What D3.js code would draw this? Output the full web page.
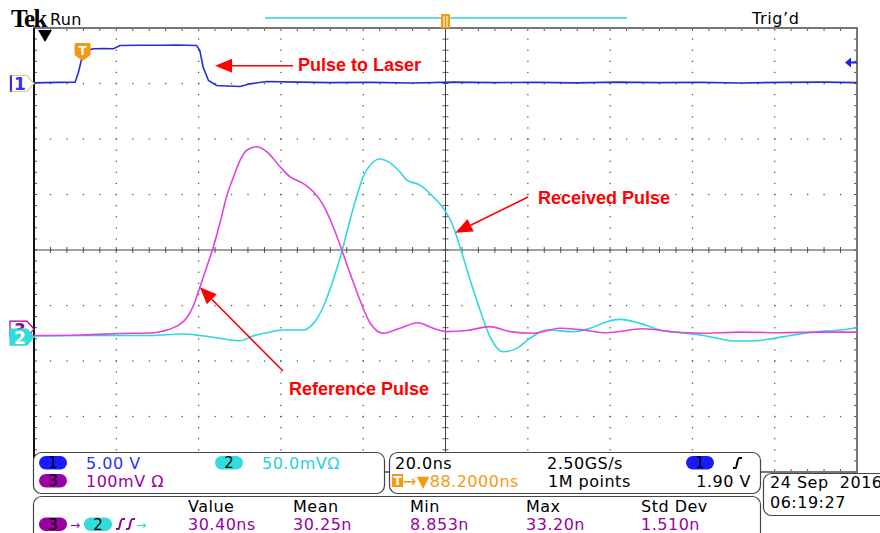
<!DOCTYPE html>
<html>
<head>
<meta charset="utf-8">
<script src="https://cdn.jsdelivr.net/npm/d3@7"></script>
<style>
body { margin: 0; background: #fff; }
svg { display: block; font-family: "DejaVu Sans", sans-serif; }
</style>
</head>
<body>
<script>
// waveforms: [time in ns after trigger, value]
// ch1 in volts
const ch1 = [[-11.8,0.06],[-6,0.1],[-1.8,0.12],[-1.0,1.02],[-0.2,2.25],[1.0,2.97],[2.6,3.13],[5,3.15],[7.5,3.13],
  [9.1,3.42],[14,3.45],[18.8,3.44],[23,3.47],[27.7,3.42],[28.5,2.97],[29.3,1.47],[30.6,0.27],[32.6,-0.18],[35,-0.22],
  [38.3,-0.27],[40.7,-0.03],[44.8,0.18],[52.8,0.12],[60,0.08],[70,0.1],[80,0.05],[90,0.12],[100,0.08],[110,0.1],
  [120,0.06],[130,0.12],[140,0.08],[150,0.1],[160,0.05],[170,0.1],[180,0.12],[188.2,0.08]];
// ch2 in mV (received pulse)
const ch2 = [[-11.8,0],[4.2,0.5],[16.4,0.5],[24.4,1.8],[28.5,0.5],[33.4,-2.1],[38.3,-4.2],[41.4,0],[44.8,3],[48.8,5.4],
  [53.6,5.4],[56.1,11.4],[58.5,26.4],[60.9,50.5],[63.0,76],[65.0,104.5],[66.6,125.5],[68.2,143.5],[70.3,155.6],
  [72.3,159.5],[74.7,156],[77.1,148],[78.8,140.5],[82.0,136],[85.2,125.5],[87.7,115],[90.1,98.5],[91.7,80.5],
  [94.2,50.5],[96.6,23.4],[99.0,-0.6],[102.2,-14.1],[105.5,-11.1],[108.7,-2.1],[112.8,5.4],[119.3,3.9],[123.3,6.9],
  [127.4,12.9],[130.6,15],[135.5,11.4],[140.3,5.4],[146.8,2.4],[152.5,-0.6],[158.1,-4.5],[163.0,-4.5],[167.9,-2.1],
  [172.7,0.9],[178.4,3.9],[184.1,5.4],[188.2,7.5]];
// ch3 in mV (reference pulse)
const ch3 = [[-11.8,0.9],[-0.6,1.8],[12.3,4.9],[16.4,5.4],[18.8,7.7],[20.5,10.8],[23.7,21.6],[25.1,30.6],[26.8,52.3],
  [28.5,88],[30.2,125],[31.8,161],[33.4,204],[35.0,251],[36.6,285],[38.3,317],[39.9,335],[42.3,341],[44.8,332],
  [48.0,305],[50.4,287],[53.6,275],[56.1,260],[58.5,236],[60.9,197],[63.0,155],[65.0,113],[67.4,65],[69.9,23],
  [73.1,5],[77.1,14],[81.5,24],[85.2,14],[88.5,8],[93.4,10],[99.0,17],[103.9,8],[109.5,5],[116.0,14],[121.6,11],
  [127.4,6],[136.2,13],[142.8,8],[150.0,5],[159.8,7],[169.5,6],[179.2,7],[188.2,7]];

const perDiv = {1: 5, 2: 50, 3: 100};      // V/div, mV/div, mV/div
const position = {1: 3.0, 2: -1.55, 3: -1.55}; // divisions
const timePerDiv = 20, delay = 88.2, trigLevel = 1.90;

const chanText = ["5.00 V", "50.0mVΩ", "100mV Ω"];
const timeText = ["20.0ns", "2.50GS/s", "1.90 V", "→▼88.2000ns", "1M points"];
const measHeaders = ["Value", "Mean", "Min", "Max", "Std Dev"];
const measValues = ["30.40ns", "30.25n", "8.853n", "33.20n", "1.510n"];
const dateText = ["24 Sep  2016", "06:19:27"];

const col = {c1: "#2a2ad8", c1txt: "#2f2fff", pill1: "#1a1aff", c2: "#2fd8dc", c2txt: "#28d2d8",
  c3: "#dd44dd", c3txt: "#99009f", orange: "#f59a10", red: "#ff0000"};

const W = 880, H = 533;
const X0 = 34, X1 = 857, Y0 = 28, Y1 = 472;

const xDiv = d3.scaleLinear().domain([0, 10]).range([X0, X1]);
const yDiv = d3.scaleLinear().domain([-4, 4]).range([Y1, Y0]);
const x = d3.scaleLinear().domain([delay - 5 * timePerDiv, delay + 5 * timePerDiv]).range([X0, X1]);
const yCh = (c, v) => yDiv(position[c] + v / perDiv[c]);

const svg = d3.select("body").append("svg").attr("width", W).attr("height", H);

// graticule
const g = svg.append("g");
const dots = [];
for (let i = 1; i < 10; i++) if (i !== 5) for (let j = 0; j <= 40; j++) dots.push([xDiv(i), yDiv(-4 + j * 0.2)]);
for (let k = -3; k <= 3; k++) if (k !== 0) for (let j = 0; j <= 50; j++) dots.push([xDiv(j * 0.2), yDiv(k)]);
g.selectAll(".dot").data(dots).join("rect").attr("class", "dot")
  .attr("x", d => d[0] - 0.6).attr("y", d => d[1] - 0.6)
  .attr("width", 1.3).attr("height", 1.3).attr("fill", "#555");

const hTicks = d3.range(0, 50.5).map(j => xDiv(j * 0.2));
const vTicks = d3.range(0, 40.5).map(j => yDiv(-4 + j * 0.2));
const tickLines = [];
hTicks.forEach(px => {
  tickLines.push([px, yDiv(0) - 3, px, yDiv(0) + 3]);
  tickLines.push([px, Y0, px, Y0 + 3]);
  tickLines.push([px, Y1 - 3, px, Y1]);
});
vTicks.forEach(py => {
  tickLines.push([xDiv(5) - 3, py, xDiv(5) + 3, py]);
  tickLines.push([X0, py, X0 + 3, py]);
  tickLines.push([X1 - 3, py, X1, py]);
});
g.selectAll(".tk").data(tickLines).join("line").attr("class", "tk")
  .attr("x1", d => d[0]).attr("y1", d => d[1]).attr("x2", d => d[2]).attr("y2", d => d[3])
  .attr("stroke", "#555").attr("stroke-width", 1);
g.append("line").attr("x1", X0).attr("x2", X1).attr("y1", yDiv(0)).attr("y2", yDiv(0)).attr("stroke", "#444");
g.append("line").attr("x1", xDiv(5)).attr("x2", xDiv(5)).attr("y1", Y0).attr("y2", Y1).attr("stroke", "#444");
g.append("rect").attr("x", X0).attr("y", Y0).attr("width", X1 - X0).attr("height", Y1 - Y0)
  .attr("fill", "none").attr("stroke", "#777").attr("stroke-width", 2);
g.append("line").attr("x1", X0).attr("x2", X0).attr("y1", Y0).attr("y2", Y1).attr("stroke", "#111").attr("stroke-width", 2);

// traces
svg.append("clipPath").attr("id", "clip").append("rect")
  .attr("x", X0).attr("y", Y0).attr("width", X1 - X0).attr("height", Y1 - Y0);
const tr = svg.append("g").attr("clip-path", "url(#clip)");
const lineFor = (c, curve) => d3.line().x(d => x(d[0])).y(d => yCh(c, d[1])).curve(curve);
tr.append("path").attr("d", lineFor(2, d3.curveMonotoneX)(ch2)).attr("fill", "none").attr("stroke", col.c2).attr("stroke-width", 1.6);
tr.append("path").attr("d", lineFor(3, d3.curveMonotoneX)(ch3)).attr("fill", "none").attr("stroke", col.c3).attr("stroke-width", 1.6);
tr.append("path").attr("d", lineFor(1, d3.curveLinear)(ch1)).attr("fill", "none").attr("stroke", col.c1).attr("stroke-width", 1.6);

// header
svg.append("text").attr("x", 11).attr("y", 27).style("font-family", "'Liberation Serif', serif").attr("font-weight", "bold")
  .attr("font-size", 25).attr("letter-spacing", -1.5).text("Tek");
svg.append("text").attr("x", 50).attr("y", 25).attr("font-size", 16).attr("letter-spacing", 0.3).text("Run");
svg.append("text").attr("x", 752).attr("y", 24).attr("font-size", 16).attr("letter-spacing", 0.6).text("Trig’d");
svg.append("line").attr("x1", 265).attr("x2", 627).attr("y1", 18).attr("y2", 18).attr("stroke", "#5fe0e0").attr("stroke-width", 2);
const cx = xDiv(5);
svg.append("rect").attr("x", cx - 4.5).attr("y", 12).attr("width", 9).attr("height", 16).attr("fill", col.orange);
[-1.5, 1.5].forEach(o => svg.append("line").attr("x1", cx + o).attr("x2", cx + o).attr("y1", 16).attr("y2", 27)
  .attr("stroke", "#fff").attr("stroke-width", 1));
svg.append("rect").attr("x", cx - 4.5).attr("y", 12).attr("width", 9).attr("height", 2).attr("fill", "#fff");
// expansion marker
svg.append("path").attr("d", "M38,30 L52,30 L45,42 Z").attr("fill", "#000");

// trigger marker
const tx = x(0);
svg.append("path").attr("d", `M${tx - 7},43 H${tx + 7} Q${tx + 8},43 ${tx + 8},45 V55 L${tx},61 L${tx - 8},55 V45 Q${tx - 8},43 ${tx - 7},43 Z`)
  .attr("fill", col.orange);
svg.append("text").attr("x", tx).attr("y", 55).attr("text-anchor", "middle").attr("font-size", 12)
  .attr("font-weight", "bold").attr("fill", "#fff").text("T");

// trigger level arrow
const ty = yCh(1, trigLevel);
svg.append("path").attr("d", `M${X1 - 12},${ty} L${X1 - 6},${ty - 5} V${ty - 1} H${X1} V${ty + 1} H${X1 - 6} V${ty + 5} Z`).attr("fill", "#2020ee");

// channel ground markers
function marker(y0, fill, stroke, label, txtFill, dy) {
  const y = y0 + dy;
  svg.append("path").attr("d", `M10,${y - 8} H27 L34,${y} L27,${y + 8} H10 Z`)
    .attr("fill", fill).attr("stroke", stroke).attr("stroke-width", 1.2);
  svg.append("text").attr("x", 20).attr("y", y + 6.5).attr("text-anchor", "middle").attr("font-size", 17)
    .attr("font-weight", "bold").attr("fill", txtFill).text(label);
}
marker(yCh(1, 0), "#fff", "#cfcf90", "1", col.c1txt, 0);
svg.append("rect").attr("x", 10).attr("y", yCh(1, 0) - 8).attr("width", 2).attr("height", 16).attr("fill", col.c1txt);
marker(yCh(3, 0), "#fff", col.c3txt, "3", col.c3txt, -7);
marker(yCh(2, 0), "#33dcdc", "#33dcdc", "2", "#fff", 1);

// annotations
function arrow(from, tip) {
  const a = Math.atan2(tip[1] - from[1], tip[0] - from[0]);
  const L = 17, hw = 7;
  const bx = tip[0] - L * Math.cos(a), by = tip[1] - L * Math.sin(a);
  svg.append("line").attr("x1", from[0]).attr("y1", from[1]).attr("x2", bx).attr("y2", by)
    .attr("stroke", col.red).attr("stroke-width", 1.6);
  svg.append("path").attr("d", `M${tip[0]},${tip[1]} L${bx + hw * Math.sin(a)},${by - hw * Math.cos(a)} L${bx - hw * Math.sin(a)},${by + hw * Math.cos(a)} Z`)
    .attr("fill", col.red);
}
function note(px, py, s) {
  svg.append("text").attr("x", px).attr("y", py).style("font-family", "'Liberation Sans', Arial, sans-serif")
    .attr("font-weight", "bold").attr("font-size", 18).attr("fill", col.red).text(s);
}
arrow([293, yCh(1, 1.6)], [x(32.2), yCh(1, 1.6)]);
note(298, 70.5, "Pulse to Laser");
arrow([528, 197], [x(90.6), yCh(2, 93)]);
note(538, 203.5, "Received Pulse");
arrow([283, 371], [x(28.5), yCh(3, 88)]);
note(289, 394.5, "Reference Pulse");

// readout panels
function panel(px, py, w, h) {
  svg.append("rect").attr("x", px).attr("y", py).attr("width", w).attr("height", h).attr("rx", 8)
    .attr("fill", "#fff").attr("stroke", "#444").attr("stroke-width", 1.2);
}
panel(33.5, 452.5, 351, 41);
panel(389.5, 452.5, 371, 41);
panel(33.5, 496.5, 727, 52);
panel(763.5, 473.5, 130, 42);

function txt(px, py, s, fill, anchor) {
  return svg.append("text").attr("x", px).attr("y", py).attr("font-size", 16).attr("letter-spacing", 0.5)
    .attr("fill", fill || "#000").attr("text-anchor", anchor || "start").style("white-space", "pre").text(s);
}
function pill(px, py, fill, label) {
  svg.append("rect").attr("x", px).attr("y", py).attr("width", 28).attr("height", 13.5).attr("rx", 6.75).attr("fill", fill);
  svg.append("text").attr("x", px + 14).attr("y", py + 12).attr("text-anchor", "middle").attr("font-size", 15).text(label);
}
function edge(px, yb, color) {
  svg.append("path").attr("d", `M${px},${yb} h2.5 C${px + 4},${yb} ${px + 4},${yb - 10} ${px + 6.5},${yb - 10} h2.5`)
    .attr("fill", "none").attr("stroke", color).attr("stroke-width", 2);
}

pill(39, 456, col.pill1, "1");
txt(86, 469, chanText[0], col.c1txt);
pill(215, 456, "#33dcdc", "2");
txt(262, 469, chanText[1], col.c2txt);
pill(39, 474, col.c3txt, "3");
txt(86, 487, chanText[2], col.c3txt);

txt(395, 469, timeText[0]);
txt(547, 469, timeText[1]);
pill(686, 456, col.pill1, "1");
edge(733, 468, "#000");
txt(751, 487, timeText[2], "#000", "end");
svg.append("rect").attr("x", 392).attr("y", 474).attr("width", 11).attr("height", 13).attr("fill", col.orange);
svg.append("text").attr("x", 397.5).attr("y", 485).attr("text-anchor", "middle").attr("font-size", 12)
  .attr("font-weight", "bold").attr("fill", "#fff").text("T");
txt(403, 487, timeText[3], col.orange);
txt(548, 487, timeText[4]);

const measX = [188, 293, 410, 526, 641];
measHeaders.forEach((s, i) => txt(measX[i], 512, s));
measValues.forEach((s, i) => txt(measX[i], 530, s, col.c3txt));
pill(39, 517.5, col.c3txt, "3");
svg.append("text").attr("x", 70).attr("y", 529).attr("font-size", 12).attr("fill", col.c3txt).text("→");
pill(84, 517.5, "#33dcdc", "2");
edge(116, 529, col.c3txt);
edge(126, 529, col.c3txt);
svg.append("text").attr("x", 136).attr("y", 529).attr("font-size", 12).attr("fill", col.c2txt).text("→");

txt(770, 488, dateText[0]);
txt(770, 508, dateText[1]);
</script>
</body>
</html>
